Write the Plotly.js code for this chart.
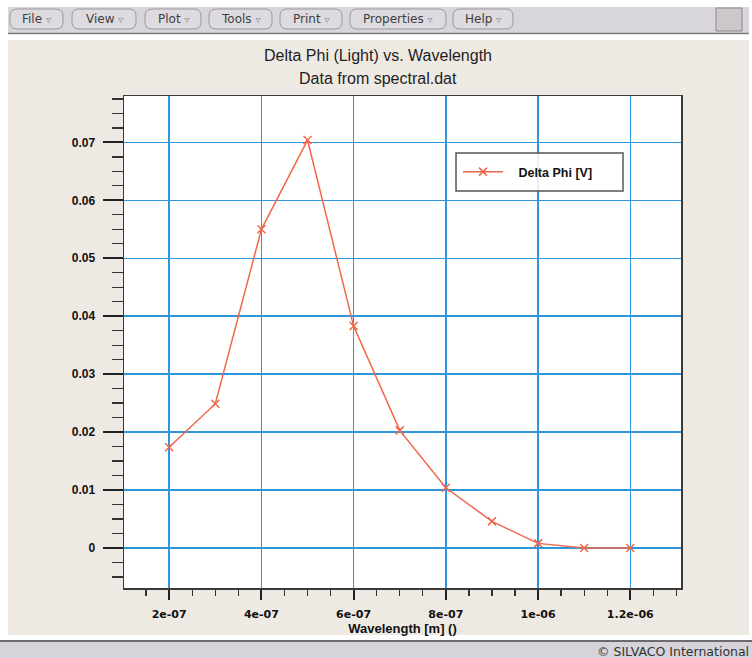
<!DOCTYPE html>
<html><head><meta charset="utf-8">
<script src="https://cdn.plot.ly/plotly-3.0.1.min.js"></script>
<style>html,body{margin:0;padding:0;background:#fff;overflow:hidden}#chart{width:752px;height:658px}</style>
</head><body><div id="chart"></div>
<script>
// ---- data ----
const wavelength = [2e-7, 3e-7, 4e-7, 5e-7, 6e-7, 7e-7, 8e-7, 9e-7, 1e-6, 1.1e-6, 1.2e-6];
const deltaPhi   = [0.0174, 0.0249, 0.0550, 0.0704, 0.0383, 0.0203, 0.0104, 0.0046, 0.0008, 0.0000, 0.0000];
const xTickVals  = [2e-7, 4e-7, 6e-7, 8e-7, 1e-6, 1.2e-6];
const xTickText  = ["2e-07", "4e-07", "6e-07", "8e-07", "1e-06", "1.2e-06"];
const yTickVals  = [0, 0.01, 0.02, 0.03, 0.04, 0.05, 0.06, 0.07];
const yTickText  = ["0", "0.01", "0.02", "0.03", "0.04", "0.05", "0.06", "0.07"];
const seriesName = "Delta Phi [V]";
const menuItems  = ["File", "View", "Plot", "Tools", "Print", "Properties", "Help"];

// ---- page geometry (pixels) ----
const W = 752, H = 658, L = 124, R = 681, T = 96, B = 588;
const px = x => (x - L) / (R - L);
const py = y => (B - y) / (B - T);
const menuSpans = [[10, 63], [72, 136], [145, 201], [209, 272], [280, 342], [350, 446], [453, 513]];

function rr(x0, y0, x1, y1, r) {
  return `M${px(x0 + r)},${py(y0)} L${px(x1 - r)},${py(y0)} Q${px(x1)},${py(y0)} ${px(x1)},${py(y0 + r)} ` +
         `L${px(x1)},${py(y1 - r)} Q${px(x1)},${py(y1)} ${px(x1 - r)},${py(y1)} L${px(x0 + r)},${py(y1)} ` +
         `Q${px(x0)},${py(y1)} ${px(x0)},${py(y1 - r)} L${px(x0)},${py(y0 + r)} Q${px(x0)},${py(y0)} ${px(x0 + r)},${py(y0)} Z`;
}
function rect(x0, y0, x1, y1, fill, line, lw, layer) {
  return {type: 'rect', xref: 'paper', yref: 'paper', x0: px(x0), x1: px(x1), y0: py(y1), y1: py(y0),
          fillcolor: fill, line: {color: line || fill, width: lw || 0}, layer: layer || 'below'};
}
function hline(x0, x1, y, color, w) {
  return {type: 'line', xref: 'paper', yref: 'paper', x0: px(x0), x1: px(x1), y0: py(y), y1: py(y),
          line: {color: color, width: w}, layer: 'below'};
}

const shapes = [
  rect(0, 0, W, 40, '#ffffff'),
  rect(0, 7, W, 33, '#d8d5db'),
  hline(0, W, 33.5, '#7c7780', 1.5),
  rect(716, 8, 742, 31, '#cdc7cb', '#8d878b', 1),
  rect(0, 0, 8, H, '#ffffff'),
  rect(749, 0, W, H, '#ffffff'),
  rect(0, 635, W, H, '#ffffff'),
  rect(0, 641, W, H, '#d6d3da'),
  hline(0, W, 641, '#6d6970', 2),
  rect(456, 153, 623, 191, 'rgba(255,255,255,0.88)', '#555555', 1.5, 'above')
];
menuSpans.forEach(s => shapes.push({type: 'path', xref: 'paper', yref: 'paper', path: rr(s[0], 9, s[1], 29, 7),
  fillcolor: '#dddae0', line: {color: '#9b97a0', width: 1}, layer: 'below'}));

const annotations = [];
menuItems.forEach((m, i) => annotations.push({
  xref: 'paper', yref: 'paper', x: px((menuSpans[i][0] + menuSpans[i][1]) / 2), y: py(19),
  xanchor: 'center', yanchor: 'middle', showarrow: false,
  text: m + ' <span style="color:#8a8690;font-size:10px">\u25BF</span>',
  font: {family: 'DejaVu Sans', size: 12, color: '#3e3e3e'}
}));
annotations.push({xref: 'paper', yref: 'paper', x: px(378), y: py(79), xanchor: 'center', yanchor: 'middle',
  showarrow: false, text: 'Data from spectral.dat', font: {family: 'Liberation Sans', size: 16, color: '#1e1e1e'}});
annotations.push({xref: 'paper', yref: 'paper', x: px(751), y: py(651), xanchor: 'right', yanchor: 'middle',
  showarrow: false, text: '\u00A9 SILVACO International', font: {family: 'DejaVu Sans', size: 12.5, color: '#333333'}});

const trace = {
  x: wavelength, y: deltaPhi, type: 'scatter', mode: 'lines+markers',
  name: '\u00A0\u00A0\u00A0' + seriesName,
  line: {color: '#f0674a', width: 1.5},
  marker: {symbol: 'x-thin-open', size: 8, color: '#f0674a', line: {color: '#f0674a', width: 1.5}}
};

const layout = {
  width: W, height: H,
  margin: {l: L, r: W - R, t: T, b: H - B, pad: 0},
  paper_bgcolor: '#efe9e3', plot_bgcolor: '#ffffff',
  title: {text: 'Delta Phi (Light) vs. Wavelength', x: 378 / W, xanchor: 'center', y: 1 - 55 / H, yanchor: 'middle',
          yref: 'container', xref: 'container', font: {family: 'Liberation Sans', size: 16, color: '#1e1e1e'}},
  showlegend: true,
  legend: {x: px(458), y: py(172), xanchor: 'left', yanchor: 'middle', bgcolor: 'rgba(0,0,0,0)', borderwidth: 0,
           itemwidth: 40, font: {family: 'Liberation Sans', size: 12.5, weight: 'bold', color: '#111111'}},
  xaxis: {
    range: [1.02e-7, 1.31e-6], tickmode: 'array', tickvals: xTickVals, ticktext: xTickText,
    showgrid: true, gridcolor: '#2f96dc', gridwidth: 1.5, zeroline: false,
    showline: true, linecolor: '#3a3a3a', linewidth: 1.5, mirror: true,
    ticks: 'outside', ticklen: 10, tickwidth: 2, tickcolor: '#222222', ticklabelstandoff: 5,
    minor: {tickmode: 'linear', tick0: 0, dtick: 5e-8, ticks: 'outside', ticklen: 6, tickwidth: 1.3, tickcolor: '#333333', showgrid: false},
    tickfont: {family: 'DejaVu Sans', size: 11, weight: 'bold', color: '#111111'},
    title: {text: 'Wavelength [m] ()', standoff: 1, font: {family: 'Liberation Sans', size: 13, weight: 'bold', color: '#111111'}},
    fixedrange: true
  },
  yaxis: {
    range: [-0.0069, 0.078], tickmode: 'array', tickvals: yTickVals, ticktext: yTickText,
    showgrid: true, gridcolor: '#2f96dc', gridwidth: 1.5, zeroline: false,
    showline: true, linecolor: '#3a3a3a', linewidth: 1.5, mirror: true,
    ticks: 'outside', ticklen: 20, tickwidth: 2, tickcolor: '#222222', ticklabelstandoff: 5,
    minor: {tickmode: 'linear', tick0: 0, dtick: 0.0025, ticks: 'outside', ticklen: 11, tickwidth: 1.3, tickcolor: '#333333', showgrid: false},
    tickfont: {family: 'Liberation Sans', size: 12, weight: 'bold', color: '#111111'},
    fixedrange: true
  },
  shapes: shapes,
  annotations: annotations
};

Plotly.newPlot('chart', [trace], layout, {displayModeBar: false, staticPlot: true});
</script>
</body></html>
